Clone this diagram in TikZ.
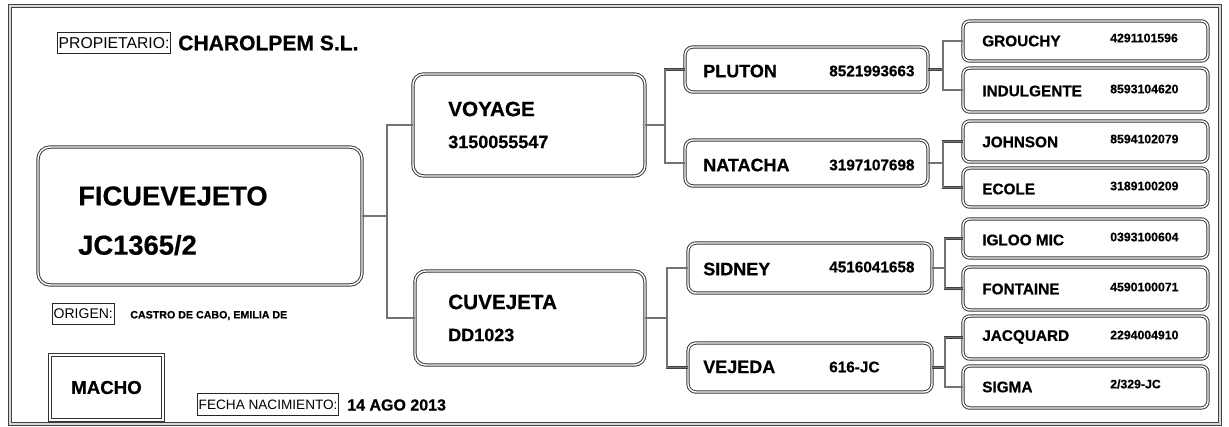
\documentclass[tikz,border=0pt]{standalone}
\usepackage{fontspec}
\setmainfont[BoldFeatures={FakeBold=0.6}]{Liberation Sans}

\begin{document}
\begin{tikzpicture}[x=0.75pt,y=0.75pt,yscale=-1,xscale=1,
  outerframe/.style={draw=black!75, line width=0.8pt, double=black!15, double distance=0.9pt},
  card/.style 2 args={draw=black!80, line width=0.7pt, double=white, double distance=1.1pt,
    rounded corners=6pt, minimum width=#1*0.75pt, minimum height=#2*0.75pt, inner sep=0pt},
  sqbox/.style 2 args={draw=black!80, line width=0.7pt, double=white, double distance=1.1pt,
    minimum width=#1*0.75pt, minimum height=#2*0.75pt, inner sep=0pt},
  link/.style={draw=black!75, line width=0.65pt, double=black!55, double distance=0.9pt},
  tag/.style={draw=black!85, line width=0.6pt, inner xsep=1pt, inner ysep=0pt, minimum height=16pt},
  txt/.style={inner xsep=0pt},
  headname/.style={txt, font=\bfseries\fontsize{20.5}{24}\selectfont},
  gen1name/.style={txt, font=\bfseries\fontsize{15.5}{18}\selectfont},
  gen1num/.style={txt, font=\bfseries\fontsize{13.5}{16}\selectfont},
  gen2name/.style={txt, font=\bfseries\fontsize{13.5}{16}\selectfont},
  gen2num/.style={txt, font=\bfseries\fontsize{11.5}{14}\selectfont},
  gen3name/.style={txt, font=\bfseries\fontsize{11.5}{14}\selectfont},
  gen3num/.style={txt, font=\bfseries\fontsize{9.2}{11}\selectfont}]
\useasboundingbox (0,0) rectangle (1229,426);

%Shape: Frame
\draw [outerframe] (10,6) -- (1220,6) -- (1220,424) -- (10,424) -- cycle;

%Shape: Rounded Rect [main]
\draw (200,216) node [card={324}{138}, rounded corners=9pt] (main) {};
%Shape: Rounded Rect [gen 1]
\draw (529,125) node [card={232}{102}, rounded corners=8pt] (voyage) {};
\draw (530,318) node [card={230}{94}, rounded corners=8pt] (cuvejeta) {};
%Shape: Rounded Rect [gen 2]
\draw (806.5,69.5) node [card={243}{45}] (pluton) {};
\draw (806.5,163) node [card={243}{46}] (natacha) {};
\draw (810,268) node [card={244}{50}] (sidney) {};
\draw (810,367.5) node [card={244}{49}] (vejeda) {};
%Shape: Rounded Rect [gen 3]
\draw (1085.5,41) node [card={245}{40}, rounded corners=5pt] (grouchy) {};
\draw (1085.5,90) node [card={245}{44}, rounded corners=5pt] (indulgente) {};
\draw (1085.5,141.5) node [card={245}{41}, rounded corners=5pt] (johnson) {};
\draw (1085.5,187.5) node [card={245}{39}, rounded corners=5pt] (ecole) {};
\draw (1085.5,238.5) node [card={245}{39}, rounded corners=5pt] (igloo) {};
\draw (1085.5,288.5) node [card={245}{43}, rounded corners=5pt] (fontaine) {};
\draw (1085.5,337.5) node [card={245}{43}, rounded corners=5pt] (jacquard) {};
\draw (1085.5,387) node [card={245}{42}, rounded corners=5pt] (sigma) {};
%Shape: Rect [sex]
\draw (106.5,387.5) node [sqbox={113}{65}] (macho) {};

%Straight Lines [joints]
\coordinate (j0) at (387,216);
\coordinate (j1) at (665,125);
\coordinate (j2) at (667,318);
\coordinate (j3) at (943,69.5);
\coordinate (j4) at (943,163);
\coordinate (j5) at (945,268);
\coordinate (j6) at (945,367.5);
%Straight Lines [links]
\draw [link] (main.east) -- (j0);
\draw [link] (voyage.west) -| (j0) |- (cuvejeta.west);
\draw [link] (voyage.east) -- (j1);
\draw [link] (pluton.west) -| (j1) |- (natacha.west);
\draw [link] (cuvejeta.east) -- (j2);
\draw [link] (sidney.west) -| (j2) |- (vejeda.west);
\draw [link] (pluton.east) -- (j3);
\draw [link] (grouchy.west) -| (j3) |- (indulgente.west);
\draw [link] (natacha.east) -- (j4);
\draw [link] (johnson.west) -| (j4) |- (ecole.west);
\draw [link] (sidney.east) -- (j5);
\draw [link] (igloo.west) -| (j5) |- (fontaine.west);
\draw [link] (vejeda.east) -- (j6);
\draw [link] (jacquard.west) -| (j6) |- (sigma.west);

% Text Node
\draw (57,43) node [tag, anchor=west, font=\fontsize{11.8}{14}\selectfont] (owner-t) {PROPIETARIO:};
% Text Node
\draw (178,43) node [txt, anchor=west, font=\bfseries\fontsize{15.8}{18}\selectfont] (owner) {CHAROLPEM S.L.};
% Text Node
\draw (52,314) node [tag, anchor=west, font=\fontsize{10.5}{12}\selectfont] (origin-t) {ORIGEN:};
% Text Node
\draw (130,315.5) node [txt, anchor=west, font=\bfseries\fontsize{8}{10}\selectfont] (origin) {CASTRO DE CABO, EMILIA DE};
% Text Node
\draw (macho.center) node [font=\bfseries\fontsize{14}{16}\selectfont] (macho-n) {MACHO};
% Text Node
\draw (197,404.5) node [tag, anchor=west, font=\fontsize{10.2}{12}\selectfont] (birth-t) {FECHA NACIMIENTO:};
% Text Node
\draw (347,405) node [txt, anchor=west, font=\bfseries\fontsize{12}{14}\selectfont] (birth) {14 AGO 2013};

% Text Node
\draw (78,196) node [anchor=west, headname] (main-n) {FICUEVEJETO};
\draw (78,245) node [anchor=west, headname] (main-c) {JC1365/2};
% Text Node
\draw (448,109) node [anchor=west, gen1name] (voyage-n) {VOYAGE};
\draw (448,142) node [anchor=west, gen1num] (voyage-c) {3150055547};
\draw (448,302) node [anchor=west, gen1name] (cuvejeta-n) {CUVEJETA};
\draw (448,335) node [anchor=west, gen1num] (cuvejeta-c) {DD1023};
% Text Node
\draw (703,71) node [anchor=west, gen2name] (pluton-n) {PLUTON};
\draw (829,71) node [anchor=west, gen2num] (pluton-c) {8521993663};
\draw (703,165) node [anchor=west, gen2name] (natacha-n) {NATACHA};
\draw (829,165) node [anchor=west, gen2num] (natacha-c) {3197107698};
\draw (703,269) node [anchor=west, gen2name] (sidney-n) {SIDNEY};
\draw (829,267) node [anchor=west, gen2num] (sidney-c) {4516041658};
\draw (703,367) node [anchor=west, gen2name] (vejeda-n) {VEJEDA};
\draw (829,367) node [anchor=west, gen2num] (vejeda-c) {616-JC};
% Text Node
\draw (982,41) node [anchor=west, gen3name] (grouchy-n) {GROUCHY};
\draw (1110,38) node [anchor=west, gen3num] (grouchy-c) {4291101596};
\draw (982,91) node [anchor=west, gen3name] (indulgente-n) {INDULGENTE};
\draw (1110,89) node [anchor=west, gen3num] (indulgente-c) {8593104620};
\draw (982,142) node [anchor=west, gen3name] (johnson-n) {JOHNSON};
\draw (1110,139) node [anchor=west, gen3num] (johnson-c) {8594102079};
\draw (982,189) node [anchor=west, gen3name] (ecole-n) {ECOLE};
\draw (1110,186) node [anchor=west, gen3num] (ecole-c) {3189100209};
\draw (982,240) node [anchor=west, gen3name] (igloo-n) {IGLOO MIC};
\draw (1110,237) node [anchor=west, gen3num] (igloo-c) {0393100604};
\draw (982,289) node [anchor=west, gen3name] (fontaine-n) {FONTAINE};
\draw (1110,287) node [anchor=west, gen3num] (fontaine-c) {4590100071};
\draw (982,337) node [anchor=west, gen3name] (jacquard-n) {JACQUARD};
\draw (1110,335) node [anchor=west, gen3num] (jacquard-c) {2294004910};
\draw (982,387) node [anchor=west, gen3name] (sigma-n) {SIGMA};
\draw (1110,384) node [anchor=west, gen3num] (sigma-c) {2/329-JC};

\end{tikzpicture}
\end{document}
